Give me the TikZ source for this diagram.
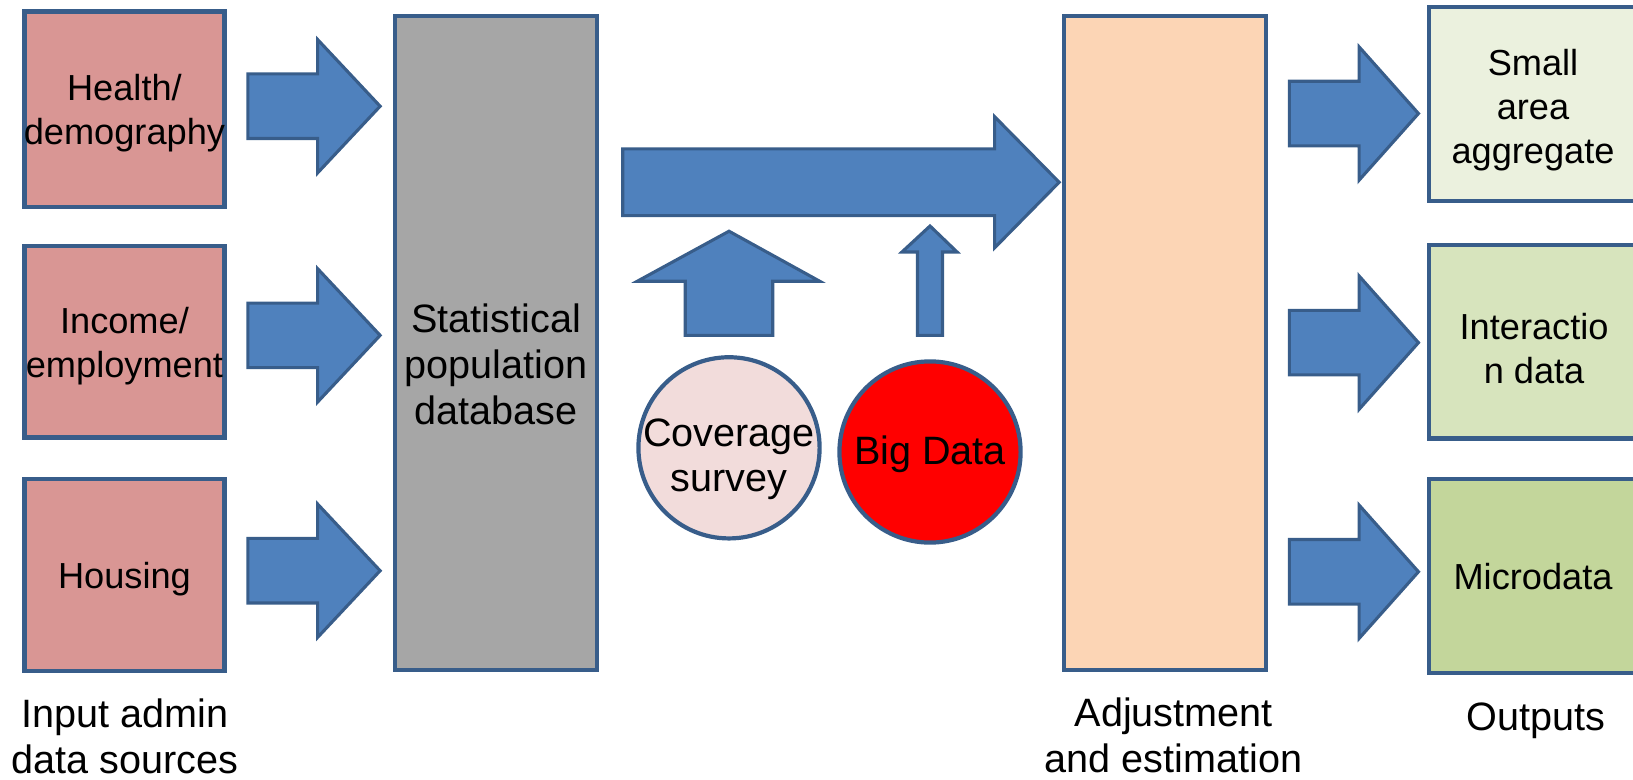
\documentclass[tikz,border=0pt]{standalone}
\usepackage{fontspec}
\setmainfont{Liberation Sans}
\definecolor{edge}{HTML}{385D8A}
\definecolor{arrowblue}{HTML}{4F81BD}
\definecolor{srcfill}{HTML}{D99694}
\definecolor{grayfill}{HTML}{A6A6A6}
\definecolor{orangefill}{HTML}{FCD5B5}
\definecolor{outA}{HTML}{EBF1DE}
\definecolor{outB}{HTML}{D7E4BD}
\definecolor{outC}{HTML}{C3D69B}
\definecolor{covfill}{HTML}{F2DCDB}
\begin{document}
\begin{tikzpicture}[x=0.52075pt,y=-0.52075pt,
  boxtxt/.style={font=\fontsize{18.1}{21.9}\selectfont, align=center, inner sep=0pt},
  bigtxt/.style={font=\fontsize{19.8}{22.9}\selectfont, align=center, inner sep=0pt},
  frame/.style={draw=edge, line width=2.1pt, inner sep=0pt},
  srcbox/.style={frame, fill=srcfill, minimum width=100pt},
  blk/.style={fill=arrowblue, draw=edge, line width=1.55pt, line join=miter}]
\useasboundingbox (0,0) rectangle (1568,748);
\clip (0,0) rectangle (1568,748);

% source boxes
\node[srcbox, minimum height=97.9pt] (health) at (119.5,105) {};
\node[boxtxt] (healthtext) at (119.5,109) {Health/\\demography};
\node[srcbox, minimum height=95.8pt] (income) at (119.5,328) {};
\node[boxtxt] (incometext) at (119.5,332) {Income/\\employment};
\node[srcbox, minimum height=95.8pt] (housing) at (119.5,552) {};
\node[boxtxt] (housingtext) at (119.5,556) {Housing};

% central columns
\node[frame, fill=grayfill, minimum width=101pt, minimum height=327pt] (spd) at (476.5,329.5) {};
\node[bigtxt] (spdtext) at (476.5,350) {Statistical\\population\\database};
\node[frame, fill=orangefill, minimum width=101pt, minimum height=327pt] (adj) at (1118.5,329.5) {};

% output boxes (extend past right edge)
\node[frame, fill=outA, minimum width=156pt, minimum height=96.9pt] (small) at (1522,100) {};
\node[boxtxt] (smalltext) at (1472,106) {Small\\area\\aggregate};
\node[frame, fill=outB, minimum width=156pt, minimum height=96.9pt] (inter) at (1522,328) {};
\node[boxtxt] (intertext) at (1473,335) {Interactio\\n data};
\node[frame, fill=outC, minimum width=156pt, minimum height=96.9pt] (micro) at (1522,553) {};
\node[boxtxt] (microtext) at (1472,554) {Microdata};

% circles
\node[frame, circle, fill=covfill, minimum size=90.6pt] (cov) at (700,430) {};
\node[bigtxt] (covtext) at (700,441) {Coverage\\survey};
\node[frame, circle, fill=red, minimum size=90.6pt] (bigdata) at (893,434) {};
\node[bigtxt] (bigtext) at (893,436) {Big Data};

% left block arrows
\foreach \c in {102,322,548}{
  \draw[blk] (238,\c-31) -- (305,\c-31) -- (305,\c-64) -- (365,\c) -- (305,\c+64) -- (305,\c+31) -- (238,\c+31) -- cycle;
}
% right block arrows
\foreach \c in {109,329,549}{
  \draw[blk] (1238,\c-31) -- (1305,\c-31) -- (1305,\c-64) -- (1362,\c) -- (1305,\c+64) -- (1305,\c+31) -- (1238,\c+31) -- cycle;
}
% big horizontal arrow
\draw[blk] (598,143) -- (955,143) -- (955,112) -- (1017,175) -- (955,238) -- (955,207) -- (598,207) -- cycle;
% coverage up arrow
\draw[blk] (658,322) -- (658,270) -- (612,270) -- (700,222) -- (787,270) -- (742,270) -- (742,322) -- cycle;
% big data up arrow
\draw[blk] (881,322) -- (881,242) -- (866,242) -- (893,217) -- (919,242) -- (905,242) -- (905,322) -- cycle;

% bottom labels
\node[bigtxt] (inlabel) at (120,707) {Input admin\\data sources};
\node[bigtxt] (adjlabel) at (1127,706) {Adjustment\\and estimation};
\node[bigtxt] (outlabel) at (1475,692) {Outputs};
\end{tikzpicture}
\end{document}
